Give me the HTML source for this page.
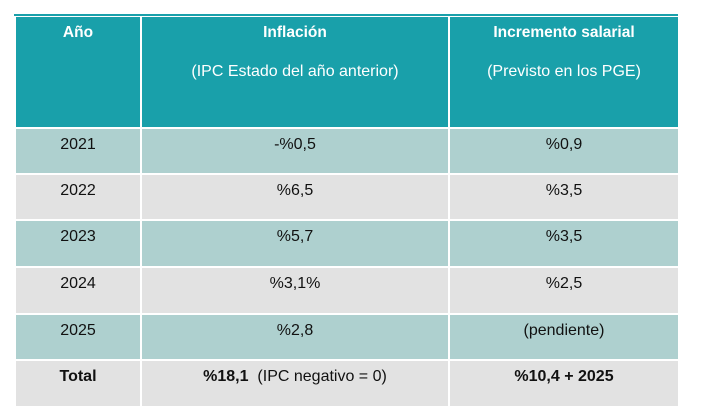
<!DOCTYPE html>
<html><head><meta charset="utf-8"><style>
body{margin:0;width:709px;height:417px;background:#fff;position:relative;overflow:hidden;font-family:"Liberation Sans",sans-serif;font-size:16px;color:#111}
.c{position:absolute;text-align:center;box-sizing:border-box;padding-top:7px}
.h{background:#19a0aa;color:#fff;font-weight:bold;padding-top:7px;font-size:15.5px}
.h span{display:block;font-weight:normal;margin-top:21px;font-size:16px}
.t{background:#aed0cf}.g{background:#e2e2e2}
</style></head><body>
<div style="position:absolute;left:14px;top:14px;width:664px;height:2px;background:#19a0aa"></div>
<div class="c h" style="left:16px;top:17px;width:124px;height:110px">Año</div>
<div class="c h" style="left:142px;top:17px;width:306px;height:110px">Inflación<span>(IPC Estado del año anterior)</span></div>
<div class="c h" style="left:450px;top:17px;width:228px;height:110px">Incremento salarial<span>(Previsto en los PGE)</span></div>

<div class="c t" style="left:16px;top:129px;width:124px;height:44px">2021</div>
<div class="c t" style="left:142px;top:129px;width:306px;height:44px">-%0,5</div>
<div class="c t" style="left:450px;top:129px;width:228px;height:44px">%0,9</div>

<div class="c g" style="left:16px;top:175px;width:124px;height:44px">2022</div>
<div class="c g" style="left:142px;top:175px;width:306px;height:44px">%6,5</div>
<div class="c g" style="left:450px;top:175px;width:228px;height:44px">%3,5</div>

<div class="c t" style="left:16px;top:221px;width:124px;height:45px">2023</div>
<div class="c t" style="left:142px;top:221px;width:306px;height:45px">%5,7</div>
<div class="c t" style="left:450px;top:221px;width:228px;height:45px">%3,5</div>

<div class="c g" style="left:16px;top:268px;width:124px;height:45px">2024</div>
<div class="c g" style="left:142px;top:268px;width:306px;height:45px">%3,1%</div>
<div class="c g" style="left:450px;top:268px;width:228px;height:45px">%2,5</div>

<div class="c t" style="left:16px;top:315px;width:124px;height:44px">2025</div>
<div class="c t" style="left:142px;top:315px;width:306px;height:44px">%2,8</div>
<div class="c t" style="left:450px;top:315px;width:228px;height:44px">(pendiente)</div>

<div class="c g" style="left:16px;top:361px;width:124px;height:45px;font-weight:bold">Total</div>
<div class="c g" style="left:142px;top:361px;width:306px;height:45px"><b>%18,1</b>&nbsp; (IPC negativo = 0)</div>
<div class="c g" style="left:450px;top:361px;width:228px;height:45px;font-weight:bold">%10,4 + 2025</div>
</body></html>
